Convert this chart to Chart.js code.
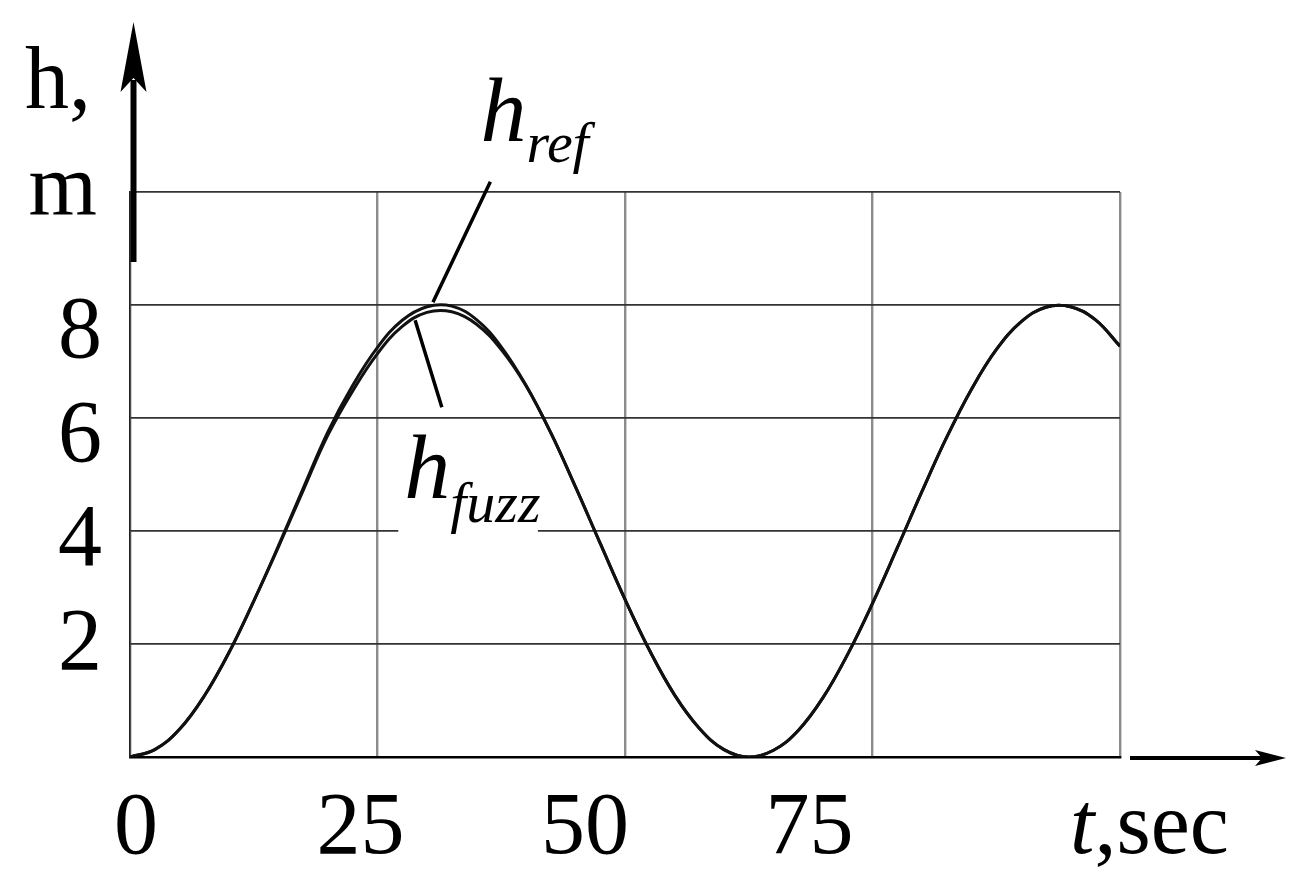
<!DOCTYPE html>
<html>
<head>
<meta charset="utf-8">
<script src="https://cdn.jsdelivr.net/npm/chart.js@4.4.0/dist/chart.umd.min.js"></script>
<style>
  html, body { margin: 0; padding: 0; background: #fff; }
</style>
</head>
<body>
<canvas id="grafico" width="1305" height="884"></canvas>
<script>
// tiempo (s) y altura (m)
const tSec = [0, 2.5, 5, 7.5, 10, 12.5, 15, 17.5, 20, 22.5, 25, 27.5, 30, 32.5, 35, 37.5, 40, 42.5, 45, 47.5,
  50, 52.5, 55, 57.5, 60, 62.5, 65, 67.5, 70, 72.5, 75, 77.5, 80, 82.5, 85, 87.5, 90, 92.5, 95, 97.5, 100];
const hRef = [0.00, 0.13, 0.49, 1.08, 1.85, 2.76, 3.74, 4.76, 5.76, 6.58, 7.25, 7.73, 7.97, 7.98, 7.74, 7.26, 6.58, 5.74, 4.78, 3.78,
  2.79, 1.88, 1.10, 0.51, 0.13, 0.00, 0.12, 0.47, 1.05, 1.82, 2.72, 3.70, 4.70, 5.66, 6.51, 7.21, 7.70, 7.96, 7.97, 7.74, 7.27];
const hFuzz = [0.00, 0.13, 0.49, 1.08, 1.85, 2.76, 3.72, 4.72, 5.70, 6.48, 7.14, 7.62, 7.87, 7.88, 7.66, 7.21, 6.57, 5.74, 4.78, 3.78,
  2.79, 1.88, 1.10, 0.51, 0.13, 0.00, 0.12, 0.47, 1.05, 1.82, 2.72, 3.70, 4.70, 5.66, 6.51, 7.21, 7.70, 7.96, 7.97, 7.74, 7.27];

const xTicks = [0, 25, 50, 75];
const yTicks = [2, 4, 6, 8];
const xName = "t";
const xUnit = ",sec";
const yName = "h,";
const yUnit = "m";

const serif = '"Liberation Serif", "DejaVu Serif", serif';

const dibujoEjes = {
  id: "dibujoEjes",
  afterDatasetsDraw(chart) {
    const ctx = chart.ctx;
    const area = chart.chartArea;
    const px = (t) => chart.scales.x.getPixelForValue(t);
    const py = (h) => chart.scales.y.getPixelForValue(h);
    ctx.save();

    // hueco en la linea de 4 detras de la etiqueta h_fuzz
    ctx.fillStyle = "#fff";
    ctx.fillRect(px(27.1), py(4.2), px(41.2) - px(27.1), py(3.8) - py(4.2));

    // lineas de referencia de las etiquetas
    ctx.strokeStyle = "#000";
    ctx.lineWidth = 3.5;
    ctx.beginPath();
    ctx.moveTo(px(36.4), py(10.18));
    ctx.lineTo(px(30.6), py(8.05));
    ctx.moveTo(px(28.8), py(7.73));
    ctx.lineTo(px(31.5), py(6.19));
    ctx.stroke();

    // etiquetas de las curvas
    ctx.fillStyle = "#000";
    ctx.textAlign = "left";
    ctx.textBaseline = "alphabetic";
    ctx.font = "italic 92px " + serif;
    let x0 = px(35.4), y0 = py(10.9);
    ctx.fillText("h", x0, y0);
    let w = ctx.measureText("h").width;
    ctx.font = "italic 58px " + serif;
    ctx.fillText("ref", x0 + w, y0 + 21);

    ctx.font = "italic 92px " + serif;
    x0 = px(27.7); y0 = py(4.58);
    ctx.fillText("h", x0, y0);
    w = ctx.measureText("h").width;
    ctx.font = "italic 58px " + serif;
    ctx.fillText("fuzz", x0 + w, y0 + 24);

    // flecha del eje y
    const ax = area.left + 3.5;
    ctx.lineWidth = 6;
    ctx.beginPath();
    ctx.moveTo(ax, area.top + 70);
    ctx.lineTo(ax, 80);
    ctx.stroke();
    ctx.beginPath();
    ctx.moveTo(ax, 22);
    ctx.lineTo(ax - 13, 92);
    ctx.lineTo(ax, 78);
    ctx.lineTo(ax + 13, 92);
    ctx.closePath();
    ctx.fill();

    // flecha del eje x
    const ay = area.bottom + 1;
    ctx.lineWidth = 4;
    ctx.beginPath();
    ctx.moveTo(area.right + 10, ay);
    ctx.lineTo(1265, ay);
    ctx.stroke();
    ctx.beginPath();
    ctx.moveTo(1286, ay);
    ctx.lineTo(1255, ay - 8);
    ctx.lineTo(1262, ay);
    ctx.lineTo(1255, ay + 8);
    ctx.closePath();
    ctx.fill();

    // textos de los ejes
    ctx.font = "88px " + serif;
    ctx.textAlign = "right";
    yTicks.forEach((v) => {
      ctx.fillText(String(v), area.left - 28, py(0.92 * v + 0.25) + 30);
    });
    ctx.fillText(yUnit, area.left - 33, py(10) + 23);
    ctx.textAlign = "left";
    ctx.fillText(yName, 25, 108);

    ctx.textAlign = "center";
    xTicks.forEach((v) => {
      ctx.fillText(String(v), px(0.907 * v + 0.6), area.bottom + 96);
    });
    ctx.textAlign = "left";
    ctx.font = "italic 88px " + serif;
    const tx = px(100) - 50;
    ctx.fillText(xName, tx, area.bottom + 96);
    const tw = ctx.measureText(xName).width;
    ctx.font = "88px " + serif;
    ctx.fillText(xUnit, tx + tw, area.bottom + 96);

    ctx.restore();
  },
};

const puntos = (serie) => tSec.map((t, i) => ({ x: t, y: serie[i] }));

new Chart(document.getElementById("grafico"), {
  type: "line",
  data: {
    datasets: [
      {
        label: "h_fuzz",
        data: puntos(hFuzz),
        borderColor: "#111",
        borderWidth: 3,
        pointRadius: 0,
        tension: 0.4,
        fill: false,
      },
      {
        label: "h_ref",
        data: puntos(hRef),
        borderColor: "#111",
        borderWidth: 3,
        pointRadius: 0,
        tension: 0.4,
        fill: false,
      },
    ],
  },
  options: {
    responsive: false,
    devicePixelRatio: 1,
    animation: false,
    layout: { padding: { left: 130, right: 185, top: 192, bottom: 127 } },
    plugins: { legend: { display: false }, tooltip: { enabled: false } },
    scales: {
      x: {
        type: "linear",
        min: 0,
        max: 100,
        ticks: { display: false, stepSize: 25 },
        grid: { color: "rgba(0,0,0,0.45)", lineWidth: 2.4, drawTicks: false },
        border: { color: "#000", width: 2.5 },
      },
      y: {
        min: 0,
        max: 10,
        ticks: { display: false, stepSize: 2 },
        grid: { color: "#333", lineWidth: 1.8, drawTicks: false },
        border: { color: "#222", width: 1.6 },
      },
    },
  },
  plugins: [dibujoEjes],
});
</script>
</body>
</html>
